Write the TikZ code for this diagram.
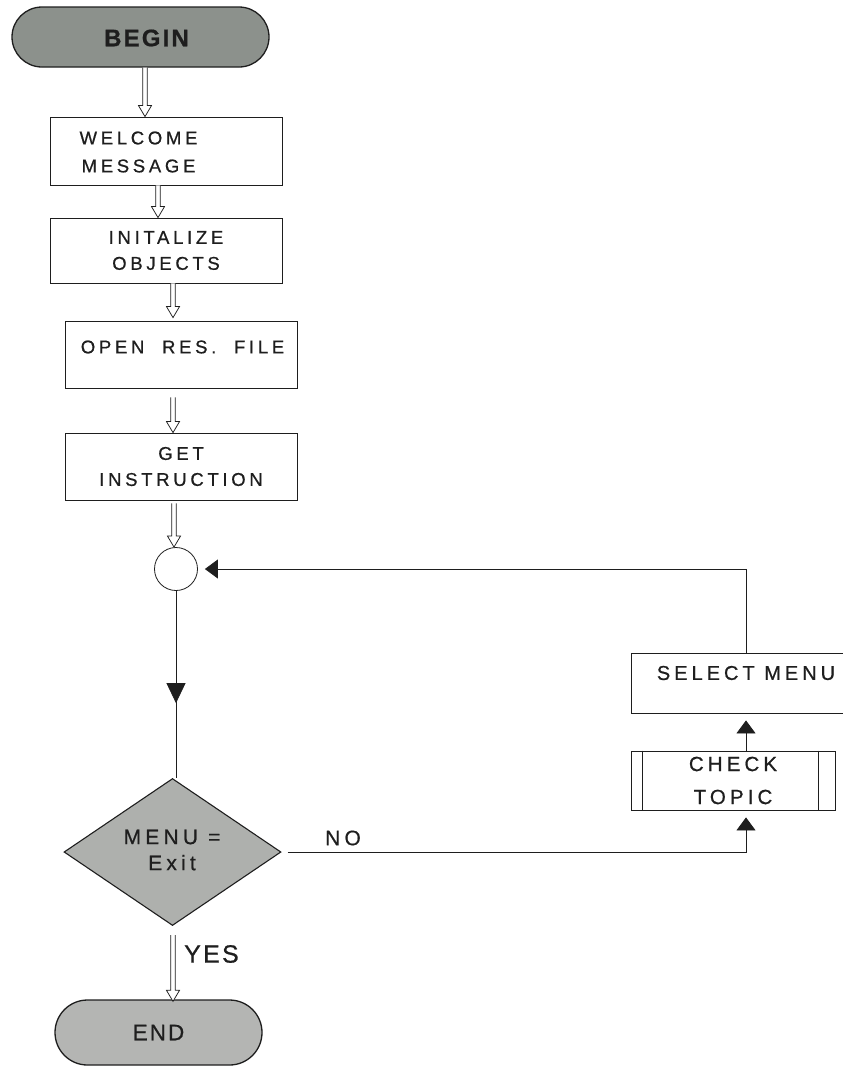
\documentclass[tikz,border=0pt]{standalone}
\usepackage{fontspec}
\setmainfont{Liberation Sans}
\newfontfamily\lbl{Liberation Sans}[LetterSpace=20, FakeBold=0.7]
\newfontfamily\lbltight{Liberation Sans}[LetterSpace=9, FakeBold=0.7]
\usetikzlibrary{shapes.geometric,shapes.misc,arrows.meta,calc,decorations.markings}

\definecolor{begfill}{RGB}{140,145,140}
\definecolor{decfill}{RGB}{174,176,173}
\definecolor{endfill}{RGB}{180,181,179}
\definecolor{ink}{RGB}{30,30,30}

\tikzset{
  line/.style={draw=ink, line width=0.8pt},
  box/.style={rectangle, draw=ink, line width=0.8pt, inner sep=0pt, align=center,
    font=\lbl\fontsize{18.5}{26}\selectfont, text=ink},
  term/.style={rounded rectangle, draw=ink, line width=1.3pt, inner sep=0pt, text=ink},
  txt/.style={inner sep=0pt, align=center, text=ink, font=\lbl\fontsize{18.5}{28}\selectfont},
  solidtip/.style={-{Triangle[width=19pt,length=13pt]}},
  hollow/.style={draw=ink, line width=0.75pt, fill=white,
    to path={let \p1=(\tikztostart), \p2=(\tikztotarget) in
      (\x1-2.3pt,\y1) -- (\x1-2.3pt,\y2+11pt) -- (\x1-6.5pt,\y2+11pt) -- (\x1,\y2)
      -- (\x1+6.5pt,\y2+11pt) -- (\x1+2.3pt,\y2+11pt) -- (\x1+2.3pt,\y1)}},
}

\begin{document}
\begin{tikzpicture}[x=1pt,y=-1pt]
\useasboundingbox (0,0) rectangle (843,1066);
\clip (0,0) rectangle (843,1066);

% terminals
\node[term, fill=begfill, minimum width=257pt, minimum height=60pt] (start) at (140.5,37) {};
\node[txt, font=\lbltight\bfseries\fontsize{24}{28}\selectfont] (start-t) at (146.5,38) {BEGIN};
\node[term, fill=endfill, minimum width=207pt, minimum height=65pt,
  font=\lbltight\fontsize{22.5}{26}\selectfont] (stop) at (158.5,1032.5) {END};

% process boxes
\node[box, minimum width=232pt, minimum height=68pt] (welcome) at (166,151) {};
\node[txt] (welcome-t) at (138.5,152) {WELCOME\\MESSAGE};
\node[box, minimum width=232pt, minimum height=65pt] (init) at (166,250.5) {INITALIZE\\OBJECTS};
\node[box, minimum width=232pt, minimum height=67pt] (open) at (181,354.5) {};
\node[txt] (open-t) at (182.5,347) {OPEN\ \ RES.\ \ FILE};
\node[box, minimum width=232pt, minimum height=67pt] (get) at (181,466.5) {GET\\INSTRUCTION};

% connector circle
\node[circle, draw=ink, line width=0.8pt, minimum size=43pt, inner sep=0pt] (circ) at (176,569) {};

% decision
\node[diamond, draw=ink, line width=1.1pt, fill=decfill, minimum width=217pt,
  minimum height=147pt, inner sep=0pt] (dia) at (172.5,852) {};
\node[txt, font=\lbl\fontsize{21}{26}\selectfont] (dia-t) at (172,850) {MENU =\\Exit};

% right-hand branch
\node[box, minimum width=230pt, minimum height=60pt] (select) at (746,683) {};
\node[txt, font=\lbl\fontsize{20}{26}\selectfont] (select-t) at (746,673) {SELECT\ MENU};
\node[box, minimum width=204pt, minimum height=59pt, font=\lbl\fontsize{20.5}{33}\selectfont]
  (check) at (733,780.5) {CHECK\\TOPIC};
\draw[line] ($(check.north west)+(12,0)$) -- ($(check.south west)+(12,0)$);
\draw[line] ($(check.north east)+(-17,0)$) -- ($(check.south east)+(-17,0)$);

% main flow
\draw[hollow] (145,0 |- start.south) to (145,0 |- welcome.north);
\draw[hollow] (158,0 |- welcome.south) to (158,0 |- init.north);
\draw[hollow] (173,0 |- init.south) to ($(173,0 |- open.north)+(0,-3)$);
\draw[hollow] ($(173,0 |- open.south)+(0,9)$) to (173,0 |- get.north);
\draw[hollow] ($(174,0 |- get.south)+(0,3)$) to (circ.north);
\draw[line, postaction={decorate}, decoration={markings,
  mark=at position 0.6 with {\arrow{Triangle[width=19pt,length=20pt]}}}]
  (circ.south) -- (circ.south |- dia.north);
\draw[hollow] ($(173,0 |- dia.south)+(0,9)$) to ($(173,0 |- stop.north)+(0,2)$);
\node[txt, font=\lbltight\fontsize{25}{28}\selectfont, anchor=west] (yes) at (184,954) {YES};

% loop back
\draw[line, solidtip, shorten >=7pt] ($(dia.east)+(6,0)$) -| (check.south -| select.south);
\node[txt, font=\lbl\fontsize{21}{24}\selectfont] (no) at (343,838) {NO};
\draw[line, solidtip, shorten >=7pt] (check.north -| select.south) -- (select.south);
\draw[line, solidtip, shorten >=7pt] (select.north) |- (circ.east);
\end{tikzpicture}
\end{document}
